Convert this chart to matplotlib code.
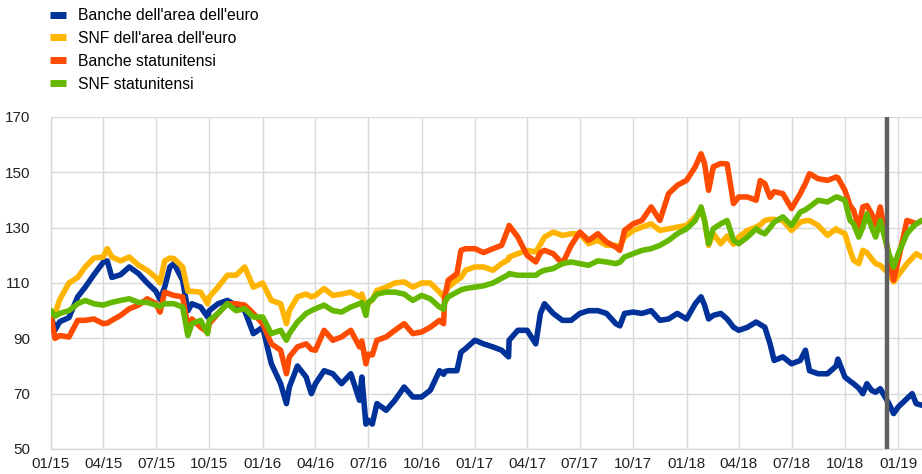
import matplotlib
matplotlib.use("Agg")
import matplotlib.pyplot as plt
import matplotlib.dates as mdates
from matplotlib.lines import Line2D
import pandas as pd

plt.rcParams['font.family'] = ['Liberation Sans', 'DejaVu Sans']

dates = [
    "2015-01-01", "2015-01-08", "2015-01-16", "2015-02-01", "2015-02-16", "2015-03-01", "2015-03-16",
    "2015-04-01", "2015-04-08", "2015-04-16", "2015-05-01", "2015-05-16", "2015-06-01", "2015-06-16",
    "2015-07-01", "2015-07-08", "2015-07-16", "2015-07-25", "2015-08-01", "2015-08-16", "2015-08-25",
    "2015-09-01", "2015-09-16", "2015-09-28", "2015-10-01", "2015-10-16", "2015-11-01", "2015-11-16",
    "2015-12-01", "2015-12-16",
    "2016-01-01", "2016-01-16", "2016-02-01", "2016-02-11", "2016-02-16", "2016-03-01", "2016-03-16",
    "2016-03-25", "2016-04-01", "2016-04-16", "2016-05-01", "2016-05-16", "2016-06-01", "2016-06-16",
    "2016-06-20", "2016-06-27", "2016-07-01", "2016-07-08", "2016-07-16", "2016-08-01", "2016-08-16",
    "2016-09-01", "2016-09-16", "2016-10-01", "2016-10-16", "2016-11-01", "2016-11-08", "2016-11-10",
    "2016-11-16", "2016-12-01", "2016-12-08", "2016-12-16",
    "2017-01-01", "2017-01-16", "2017-02-01", "2017-02-16", "2017-02-28", "2017-03-01", "2017-03-16",
    "2017-04-01", "2017-04-16", "2017-04-24", "2017-05-01", "2017-05-16", "2017-06-01", "2017-06-16",
    "2017-07-01", "2017-07-16", "2017-08-01", "2017-08-16", "2017-09-01", "2017-09-08", "2017-09-16",
    "2017-10-01", "2017-10-16", "2017-11-01", "2017-11-16", "2017-12-01", "2017-12-16",
    "2018-01-01", "2018-01-16", "2018-01-26", "2018-02-01", "2018-02-08", "2018-02-16", "2018-03-01",
    "2018-03-12", "2018-03-23", "2018-04-01", "2018-04-16", "2018-05-01", "2018-05-08", "2018-05-16",
    "2018-05-25", "2018-06-01", "2018-06-16", "2018-07-01", "2018-07-16", "2018-07-25", "2018-08-01",
    "2018-08-16", "2018-09-01", "2018-09-16", "2018-09-19", "2018-10-01", "2018-10-10", "2018-10-16",
    "2018-10-25", "2018-11-01", "2018-11-08", "2018-11-16", "2018-11-23", "2018-12-01", "2018-12-16",
    "2018-12-24",
    "2019-01-01", "2019-01-16", "2019-01-25", "2019-02-01", "2019-02-11",
]

banche_euro = [
    98, 93, 96, 97.5, 105, 108.5, 113,
    117.5, 118, 112, 113, 115.8, 113.4, 110,
    107, 104, 108.5, 115.8, 117, 111, 100,
    102.5, 101.3, 97.7, 100, 102.5, 103.7, 102,
    100, 91.7,
    94, 80.8, 73.6, 66.4, 72.4, 80, 76,
    70, 73.6, 78.3, 77.2, 73.6, 77.2, 67.6,
    76, 59, 60.4, 59, 66.4, 64, 67.6,
    72.4, 68.8, 68.8, 71.2, 78.3, 77, 78,
    78.3, 78.3, 85, 86.3,
    89.3, 88, 86.9, 85.7, 83.3, 89.3, 92.9,
    92.9, 88, 99, 102.5, 99, 96.5, 96.5,
    99, 100, 100, 99, 95.3, 94.5, 99,
    99.5, 99, 100, 96.5, 97, 99,
    97, 102.5, 105, 102, 97, 98.3, 99,
    97, 94, 92.9, 94, 95.9, 95, 94,
    88, 82, 83.3, 80.8, 82, 85.7, 78.3,
    77.2, 77.2, 80, 82.5, 76, 74.5, 73.6,
    72, 70, 73.6, 71.2, 70.5, 71.8, 66.4,
    62.8,
    65.2, 68.2, 70, 66.4, 65.8,
]

snf_euro = [
    98, 99, 104, 110, 112, 115.8, 119,
    119.4, 122.4, 119.4, 118, 119.4, 116.4, 114.6,
    112, 110, 118, 119, 118.8, 115.8, 107,
    107, 106.7, 102.5, 105, 108.5, 112.8, 112.8,
    115.8, 108.5,
    110, 103.7, 102.5, 95.3, 100, 105, 106,
    105, 105.5, 108, 105.5, 106, 106.7, 105,
    106, 101, 102.5, 104, 107.3, 108.5, 110,
    110.4, 108.5, 110, 110, 106.7, 105, 106,
    108.5, 111, 112, 114.6,
    115.8, 115.8, 114.6, 117, 118.5, 119.4, 120.6,
    121.8, 121.2, 124, 126.6, 128.4, 127.2, 127.8,
    127.8, 124.2, 125.4, 123.6, 123.6, 123, 126.6,
    129, 130.2, 131.4, 129, 129.6, 130.2,
    130.8, 133.9, 136.3, 132.6, 123.6, 127.8, 124.2,
    127, 124, 126.6, 129, 130.2, 131, 132.6,
    133, 133, 132.6, 129, 132, 132.5, 132.6,
    130.8, 127.2, 129.6, 129, 127.8, 121.8, 118.2,
    117, 121.8, 121, 118.8, 117, 116.4, 113.4,
    110.4,
    112.8, 117, 119, 120.6, 119.4,
]

banche_usa = [
    98, 90, 91, 90.5, 96.5, 96.5, 97,
    95.3, 95.5, 96.5, 98.3, 100.7, 102, 104.3,
    102.5, 99.5, 106.7, 106, 105.5, 105, 94,
    97, 94, 92.3, 95.3, 99, 102.5, 102.5,
    102, 99,
    95.3, 88, 85.7, 77.2, 83.3, 86.9, 88,
    86, 85.7, 92.9, 89.3, 90.5, 92.9, 86.9,
    89, 80.8, 84.3, 84, 89.3, 90.5, 92.9,
    95.3, 91.7, 92.3, 94, 96.5, 95.3, 105,
    111, 113.4, 121.8, 122.4,
    122.4, 121, 122.4, 123.6, 130, 130.8, 126.6,
    120, 117.6, 121, 121.8, 120.6, 117, 123.6,
    128.4, 125.4, 127.8, 124.8, 123, 121.8, 129,
    131.4, 132.6, 137.5, 132.6, 142.3, 145.3,
    147.1, 152, 156.7, 153.2, 143.5, 152, 153.2,
    153, 138.7, 141.1, 141.1, 139.9, 147, 145.9,
    141, 143, 142.3, 136.9, 142.3, 146, 149.5,
    147.7, 147.1, 148.3, 148, 143.5, 138, 136.3,
    130, 137.5, 138, 135.1, 131, 137.5, 119.4,
    111,
    118.2, 132.6, 132, 131.4, 132.6,
]

snf_usa = [
    100, 98, 99, 100, 102.5, 103.7, 102.5,
    102, 102.5, 103, 103.7, 104.3, 103, 103,
    102, 101.5, 102.5, 102.5, 102.5, 101.3, 91,
    95.3, 96.5, 91.7, 96.5, 99, 102.5, 100,
    100.7, 97.7,
    97.7, 91.7, 92.9, 89.3, 91.7, 95.9, 99,
    100, 100.7, 102, 100, 99.5, 101.3, 102.5,
    103, 98.3, 103, 104, 106, 106.7, 106.7,
    106, 103.7, 105.5, 104.3, 101.3, 100.5, 103,
    105, 106.7, 107.5, 108,
    108.5, 109, 110, 111.7, 113, 113.4, 112.8,
    112.8, 112.8, 114, 114.6, 115.2, 117, 117.6,
    117, 116.4, 118, 117.6, 117, 117.5, 119.4,
    120.6, 121.8, 122.4, 123.6, 125.4, 127.8,
    129.6, 132.6, 137.5, 132.6, 124.2, 129.6, 131.4,
    132.6, 125.4, 124.2, 126.6, 129.6, 128.5, 127.8,
    130, 132, 133.9, 130.8, 135.6, 136.5, 137.5,
    139.9, 139.3, 141.1, 141, 139.9, 132.6, 131.4,
    126.6, 130.2, 135, 130.2, 126.6, 132.6, 120.6,
    115.8,
    120.6, 127.8, 130, 131.4, 132.6,
]

series_labels = ["Banche dell'area dell'euro", "SNF dell'area dell'euro",
                 "Banche statunitensi", "SNF statunitensi"]
series_colors = ["#003299", "#FFB400", "#FF4B00", "#65B800"]
y_ticks = [50, 70, 90, 110, 130, 150, 170]
marker_date = "2018-12-13"
x_start, x_end = "2015-01-01", "2019-02-11"

x = pd.to_datetime(dates)
data = [banche_euro, snf_euro, banche_usa, snf_usa]

fig = plt.figure(figsize=(9.22, 4.74), dpi=100)
ax = fig.add_axes([51 / 922, 25 / 474, 871 / 922, 332 / 474])

for i in range(4):
    ax.plot(x, data[i], color=series_colors[i], lw=4.0, solid_joinstyle='round',
            solid_capstyle='round', zorder=3 + i * 0.1)

ax.axvline(pd.Timestamp(marker_date), color="#5f5f5f", lw=3.2, zorder=5)

ax.set_xlim(pd.Timestamp(x_start), pd.Timestamp(x_end))
ax.set_ylim(50, 170)
ax.set_yticks(y_ticks)
ax.xaxis.set_major_locator(mdates.MonthLocator(bymonth=[1, 4, 7, 10]))
ax.xaxis.set_major_formatter(mdates.DateFormatter("%m/%y"))
ax.grid(True, color="#d9d9d9", lw=1.0, zorder=0)
ax.set_axisbelow(True)
for s in ["top", "right"]:
    ax.spines[s].set_visible(False)
for s in ["left", "bottom"]:
    ax.spines[s].set_color("#d9d9d9")
    ax.spines[s].set_linewidth(1.0)
ax.tick_params(axis="both", length=0, labelsize=11, colors="#222222")
ax.tick_params(axis="y", pad=15)
ax.tick_params(axis="x", pad=6)

handles = [Line2D([0], [0], color=c, lw=5, solid_capstyle='butt') for c in series_colors]
fig.legend(handles, series_labels, loc="upper left", bbox_to_anchor=(50 / 922, 1 - 8 / 474),
           frameon=False, fontsize=11.3, handlelength=1.0, handletextpad=0.76,
           labelspacing=0.5, borderpad=0, borderaxespad=0)

fig.savefig("out.png", dpi=100)
